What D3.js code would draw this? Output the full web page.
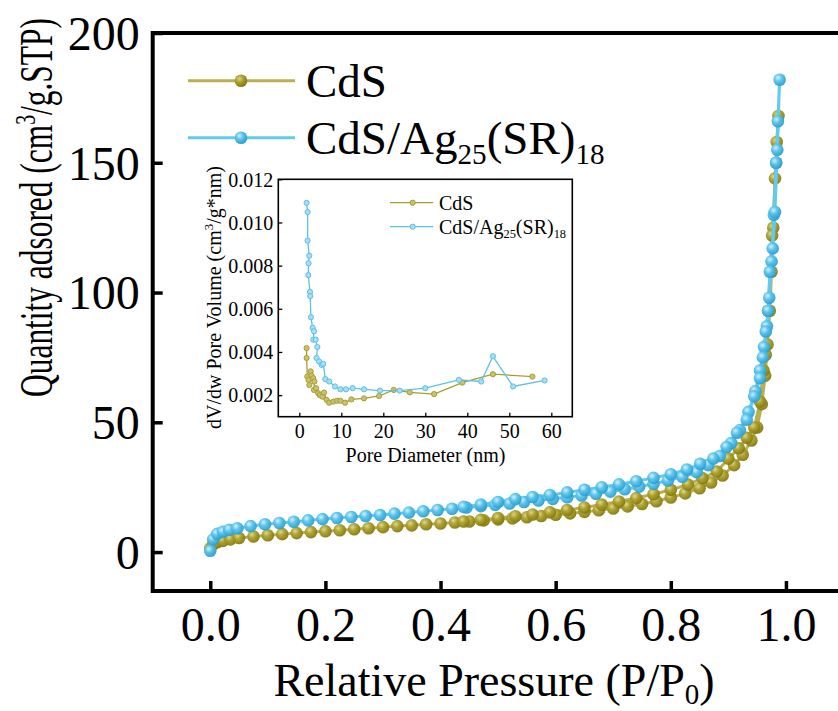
<!DOCTYPE html>
<html>
<head>
<meta charset="utf-8">
<script src="https://cdn.jsdelivr.net/npm/d3@7"></script>
<style>
  html, body { margin: 0; padding: 0; background: #fff; }
  svg { display: block; }
  text { font-family: "Liberation Serif", "Times New Roman", serif; fill: #000; }
</style>
</head>
<body>
<svg id="chart" width="838" height="711"></svg>
<script>
// N2 adsorption–desorption isotherms (adsorption branch followed by desorption branch)
const pressureCdS = [0.000,0.005,0.012,0.022,0.035,0.050,0.075,0.100,0.125,0.150,0.175,0.200,0.225,0.250,0.275,0.300,0.325,0.350,0.375,0.400,0.425,0.450,0.475,0.500,0.525,0.550,0.575,0.600,0.625,0.650,0.675,0.700,0.725,0.750,0.775,0.800,0.825,0.850,0.870,0.890,0.910,0.925,0.940,0.950,0.958,0.964,0.968,0.972,0.975,0.978,0.981,0.984,0.987,
  0.983,0.976,0.969,0.965,0.961,0.955,0.945,0.932,0.918,0.900,0.880,0.855,0.830,0.800,0.770,0.740,0.710,0.680,0.650,0.620,0.590,0.560,0.530,0.500,0.470,0.440];
const quantityCdS = [1.5,3.0,3.8,4.3,4.9,5.4,6.0,6.5,6.9,7.3,7.7,8.0,8.4,8.8,9.2,9.6,10.0,10.3,10.7,11.0,11.4,11.8,12.2,12.6,13.0,13.4,13.9,14.4,14.9,15.5,16.1,16.8,17.6,18.5,19.6,21.0,22.6,24.6,26.8,29.5,33.5,37.5,43,48,57,68,80,93,108,125,144,158,168,
  150,122,93,76,70,58,48,44,40,36,31,28.5,26,24,22.3,20.8,19.5,18.3,17.2,16.2,15.3,14.5,13.8,13.1,12.4,11.8];

const pressureAg = [0.000,0.005,0.012,0.022,0.033,0.047,0.070,0.095,0.120,0.145,0.170,0.195,0.220,0.245,0.270,0.295,0.320,0.345,0.370,0.395,0.420,0.445,0.470,0.495,0.520,0.545,0.570,0.595,0.620,0.645,0.670,0.695,0.720,0.745,0.770,0.795,0.820,0.845,0.865,0.885,0.905,0.920,0.935,0.947,0.955,0.962,0.967,0.971,0.975,0.979,0.983,0.986,0.989,
  0.985,0.981,0.977,0.972,0.969,0.965,0.960,0.955,0.945,0.932,0.915,0.897,0.874,0.851,0.828,0.800,0.770,0.740,0.710,0.680,0.650,0.620,0.590,0.560,0.530,0.500,0.470,0.440];
const quantityAg = [0.5,4.9,7.0,7.8,8.6,9.2,10.0,10.7,11.2,11.7,12.2,12.7,13.1,13.5,13.9,14.3,14.8,15.2,15.7,16.2,16.7,17.2,17.7,18.2,18.7,19.3,19.9,20.5,21.1,21.8,22.5,23.3,24.2,25.2,26.3,27.6,29.0,30.8,33.5,37,42,47,54,62,70,79,87,98,112,130,150,166,182,
  155,131,117,108,93,85,75,67,60,51,46,40.5,36,34,31.8,30,28.6,27.3,26.1,25,24,23,22,21.2,20.4,19.3,18.3,17.4];

// BJH pore size distribution
const poreCdS = [1.74,1.74,1.9,2.2,2.4,2.7,2.9,3.3,3.6,3.5,4.0,4.5,4.9,5.5,5.9,6.5,7.1,8.1,9.0,9.8,10.9,12.4,15.4,19.0,22.5,26.3,32.1,38.8,46.1,55.5];
const volumeCdS = [0.00418,0.00372,0.00286,0.00270,0.00247,0.00310,0.00290,0.00278,0.00263,0.00224,0.00232,0.00209,0.00200,0.00193,0.00212,0.00178,0.00165,0.00170,0.00174,0.00174,0.00165,0.00180,0.00185,0.00196,0.00224,0.00213,0.00205,0.00258,0.00297,0.00286];
const poreAg = [1.74,1.98,1.98,2.38,2.2,2.14,2.54,2.6,2.77,3.17,3.5,3.33,3.9,4.3,4.1,4.7,5.3,5.7,6.2,7.1,8.5,9.8,11.1,12.7,15.4,19.2,23.9,30.0,38.0,43.3,46.1,50.9,58.4];
const volumeAg = [0.01091,0.01048,0.00916,0.00846,0.00811,0.00756,0.00678,0.00659,0.00561,0.00512,0.00496,0.00457,0.00457,0.00423,0.00372,0.00356,0.00340,0.00345,0.00274,0.00263,0.00240,0.00227,0.00227,0.00232,0.00227,0.00221,0.00221,0.00232,0.00271,0.00263,0.00380,0.00240,0.00268];

const mainXTicks = [0, 0.2, 0.4, 0.6, 0.8, 1.0];
const mainYTicks = [0, 50, 100, 150, 200];
const insetXTicks = [0, 10, 20, 30, 40, 50, 60];
const insetYTicks = [0.002, 0.004, 0.006, 0.008, 0.010, 0.012];

const seriesNames = ["CdS", "CdS/Ag25(SR)18"];

const colors = {
  cds:  { line: "#b9b04f", dark: "#857a12", mid: "#aba02a", light: "#ddd68c", inset: "#a89e30", insetFill: "#c9c170" },
  ag:   { line: "#62caf0", dark: "#2c9fcf", mid: "#58c3ec", light: "#d2f3ff", inset: "#5fbfe6", insetFill: "#a6def4" }
};

const svg = d3.select("#chart");
svg.append("rect").attr("width", 838).attr("height", 711).attr("fill", "#fff");

// shaded ball markers
const defs = svg.append("defs");
function ballGradient(id, c) {
  const g = defs.append("radialGradient").attr("id", id)
    .attr("cx", "38%").attr("cy", "35%").attr("r", "65%");
  g.append("stop").attr("offset", "0%").attr("stop-color", c.light);
  g.append("stop").attr("offset", "45%").attr("stop-color", c.mid);
  g.append("stop").attr("offset", "100%").attr("stop-color", c.dark);
}
ballGradient("ballCdS", colors.cds);
ballGradient("ballAg", colors.ag);

// ---------- main isotherm panel ----------
const M = { left: 152.7, right: 843.5, top: 33, bottom: 591 };
const x = d3.scaleLinear().domain([-0.1, 1.1]).range([M.left, M.right]);
const y = d3.scaleLinear().domain([-15, 200]).range([M.bottom, M.top]);

const main = svg.append("g");

const xAxis = d3.axisBottom(x).tickValues(mainXTicks).tickFormat(d3.format(".1f"))
  .tickSizeInner(-10).tickSizeOuter(0).tickPadding(15.5);
const gx = main.append("g").attr("transform", `translate(0,${M.bottom})`).call(xAxis);
gx.select(".domain").remove();
gx.selectAll(".tick line").attr("stroke", "#000").attr("stroke-width", 3.5);
gx.selectAll(".tick text").style("font-size", "48px").attr("dy", "0.71em");

const yAxis = d3.axisLeft(y).tickValues(mainYTicks).tickFormat(d3.format("d"))
  .tickSizeInner(-10).tickSizeOuter(0).tickPadding(13);
const gy = main.append("g").attr("transform", `translate(${M.left},0)`).call(yAxis);
gy.select(".domain").remove();
gy.selectAll(".tick line").attr("stroke", "#000").attr("stroke-width", 3.5);
gy.selectAll(".tick text").style("font-size", "48px").attr("dy", "0.34em");

main.append("rect")
  .attr("x", M.left).attr("y", M.top)
  .attr("width", M.right - M.left).attr("height", M.bottom - M.top)
  .attr("fill", "none").attr("stroke", "#000").attr("stroke-width", 4);

const line = d3.line().x(d => x(d[0])).y(d => y(d[1]));
function drawIsotherm(px, qy, c, grad) {
  const pts = px.map((p, i) => [p, qy[i]]);
  const g = main.append("g");
  g.append("path").datum(pts).attr("d", line)
    .attr("fill", "none").attr("stroke", c.line).attr("stroke-width", 3).attr("stroke-linejoin", "round");
  g.selectAll("circle").data(pts).join("circle")
    .attr("cx", d => x(d[0])).attr("cy", d => y(d[1])).attr("r", 6.3)
    .attr("fill", `url(#${grad})`).attr("opacity", 0.95);
}
drawIsotherm(pressureCdS, quantityCdS, colors.cds, "ballCdS");
drawIsotherm(pressureAg, quantityAg, colors.ag, "ballAg");

// axis titles
const xt = main.append("text").attr("x", 494).attr("y", 696).attr("text-anchor", "middle").style("font-size", "46px");
xt.append("tspan").text("Relative Pressure (P/P");
xt.append("tspan").attr("dy", 8).style("font-size", "29px").text("0");
xt.append("tspan").attr("dy", -8).text(")");

// y title: condensed along its length so it runs from y≈18 to y≈397
const yTitleSpan = 379, yTitleCenter = 207.5;
const ytG = main.append("g");
const yt = ytG.append("text").attr("text-anchor", "middle").style("font-size", "46px");
yt.append("tspan").text("Quantity adsored (cm");
yt.append("tspan").attr("dy", -17).style("font-size", "29px").text("3");
yt.append("tspan").attr("dy", 17).text("/g.STP)");
const natural = yt.node().getComputedTextLength();
ytG.attr("transform", `translate(52,${yTitleCenter}) rotate(-90) scale(${yTitleSpan / natural},1)`);

// main legend
function legendLabel(sel, name, big, sub) {
  const m = name.match(/^(CdS\/Ag)(\d+)(\(SR\))(\d+)$/);
  if (!m) { sel.text(name); return; }
  sel.append("tspan").text(m[1]);
  sel.append("tspan").attr("dy", sub).style("font-size", big * 0.62 + "px").text(m[2]);
  sel.append("tspan").attr("dy", -sub).text(m[3]);
  sel.append("tspan").attr("dy", sub).style("font-size", big * 0.62 + "px").text(m[4]);
}
const legendRows = [
  { name: seriesNames[0], c: colors.cds, grad: "ballCdS", y: 80.7 },
  { name: seriesNames[1], c: colors.ag, grad: "ballAg", y: 137.7 }
];
legendRows.forEach(r => {
  main.append("line").attr("x1", 188).attr("x2", 295).attr("y1", r.y).attr("y2", r.y)
    .attr("stroke", r.c.line).attr("stroke-width", 3);
  main.append("circle").attr("cx", 241).attr("cy", r.y).attr("r", 6.3).attr("fill", `url(#${r.grad})`);
  const t = main.append("text").attr("x", 306).attr("y", r.y + 16).style("font-size", "47px");
  legendLabel(t, r.name, 47, 10);
});

// ---------- inset: pore size distribution ----------
const I = { left: 278.3, right: 572.3, top: 179.3, bottom: 416.7 };
const ix = d3.scaleLinear().domain([-5, 65]).range([I.left, I.right]);
const iy = d3.scaleLinear().domain([0.001, 0.012]).range([I.bottom, I.top]);
const inset = svg.append("g");

const ixAxis = d3.axisBottom(ix).tickValues(insetXTicks).tickFormat(d3.format("d"))
  .tickSizeInner(-4).tickSizeOuter(0).tickPadding(7);
const gix = inset.append("g").attr("transform", `translate(0,${I.bottom})`).call(ixAxis);
gix.select(".domain").remove();
gix.selectAll(".tick line").attr("stroke", "#000").attr("stroke-width", 1.3);
gix.selectAll(".tick text").style("font-size", "20px").attr("dy", "0.71em");

const iyAxis = d3.axisLeft(iy).tickValues(insetYTicks).tickFormat(d3.format(".3f"))
  .tickSizeInner(-4).tickSizeOuter(0).tickPadding(5);
const giy = inset.append("g").attr("transform", `translate(${I.left},0)`).call(iyAxis);
giy.select(".domain").remove();
giy.selectAll(".tick line").attr("stroke", "#000").attr("stroke-width", 1.3);
giy.selectAll(".tick text").style("font-size", "20px").attr("dy", "0.34em");

inset.append("rect")
  .attr("x", I.left).attr("y", I.top)
  .attr("width", I.right - I.left).attr("height", I.bottom - I.top)
  .attr("fill", "none").attr("stroke", "#000").attr("stroke-width", 1.6);

const iline = d3.line().x(d => ix(d[0])).y(d => iy(d[1]));
function drawPsd(dp, vol, c) {
  const pts = dp.map((p, i) => [p, vol[i]]);
  const g = inset.append("g");
  g.append("path").datum(pts).attr("d", iline)
    .attr("fill", "none").attr("stroke", c.inset).attr("stroke-width", 1.3);
  g.selectAll("circle").data(pts).join("circle")
    .attr("cx", d => ix(d[0])).attr("cy", d => iy(d[1])).attr("r", 2.6)
    .attr("fill", c.insetFill).attr("stroke", c.inset).attr("stroke-width", 1);
}
drawPsd(poreCdS, volumeCdS, colors.cds);
drawPsd(poreAg, volumeAg, colors.ag);

inset.append("text").attr("x", 425.5).attr("y", 462).attr("text-anchor", "middle")
  .style("font-size", "20px").text("Pore Diameter (nm)");

const iyt = inset.append("text").attr("transform", "translate(221,297.5) rotate(-90)")
  .attr("text-anchor", "middle").style("font-size", "20px");
iyt.append("tspan").text("dV/dw Pore Volume (cm");
iyt.append("tspan").attr("dy", -8).style("font-size", "13px").text("3");
iyt.append("tspan").attr("dy", 8).text("/g*nm)");

const insetLegend = [
  { name: seriesNames[0], c: colors.cds, y: 202.7 },
  { name: seriesNames[1], c: colors.ag, y: 226.7 }
];
insetLegend.forEach(r => {
  inset.append("line").attr("x1", 390).attr("x2", 433.3).attr("y1", r.y).attr("y2", r.y)
    .attr("stroke", r.c.inset).attr("stroke-width", 1.3);
  inset.append("circle").attr("cx", 412.7).attr("cy", r.y).attr("r", 2.6)
    .attr("fill", r.c.insetFill).attr("stroke", r.c.inset).attr("stroke-width", 1);
  const t = inset.append("text").attr("x", 439).attr("y", r.y + 7).style("font-size", "20px");
  legendLabel(t, r.name, 20, 4);
});
</script>
</body>
</html>
